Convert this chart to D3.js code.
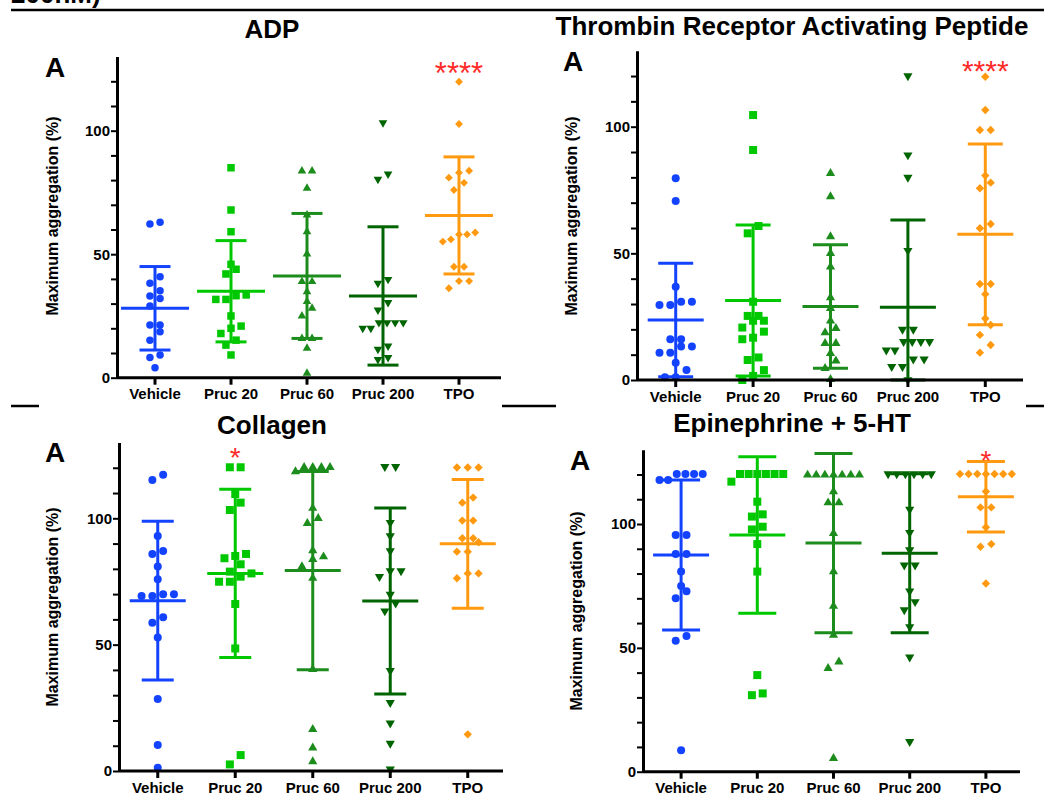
<!DOCTYPE html>
<html>
<head>
<meta charset="utf-8">
<script src="https://cdn.jsdelivr.net/npm/d3@7"></script>
<style>
body { margin: 0; background: #fff; }
svg { display: block; }
text { font-family: "Liberation Sans", Arial, sans-serif; }
</style>
</head>
<body>
<div id="chart"></div>
<script>
// groups and ticks shared by the four panels
var groups = ["Vehicle", "Pruc 20", "Pruc 60", "Pruc 200", "TPO"];
var yTickValues = [0, 10, 20, 30, 40, 50, 60, 70, 80, 90, 100, 110, 120];
var yTickLabels = [0, 50, 100];
var colors = ["#1343ff", "#00c800", "#1c8c1c", "#006400", "#ff9a10"];
var shapes = ["circle", "square", "triangle", "triangleDown", "diamond"];

// ADP
var adpValues = [
	[62.2, 62.9, 40.9, 38.2, 35.2, 33.1, 32.1, 29.0, 21.3, 21.3, 18.6, 15.2, 9.2, 8.2, 4.0],
	[85.0, 67.9, 59.1, 45.9, 43.9, 42.0, 33.5, 33.2, 31.7, 31.7, 25.0, 20.9, 20.0, 17.9, 15.2, 13.2, 9.2],
	[83.7, 83.7, 76.7, 65.9, 59.1, 50.1, 38.9, 38.9, 34.8, 30.8, 28.1, 25.0, 15.9, 15.9, 11.9, 1.8],
	[103.2, 82.5, 80.3, 39.8, 38.2, 30.4, 27.4, 22.3, 22.3, 22.3, 22.3, 20.0, 20.0, 12.8, 11.5, 8.2, 7.4],
	[119.8, 102.7, 83.8, 83.0, 81.0, 78.9, 76.0, 58.8, 58.0, 58.0, 56.0, 55.1, 44.9, 44.9, 39.1, 39.1, 36.2]
];
var adpMean = [28.1, 35.0, 41.2, 33.1, 65.7];
var adpSd = [16.9, 20.5, 25.3, 28.0, 23.7];
var adpSig = ["", "", "", "", "****"];

// Thrombin Receptor Activating Peptide
var trapValues = [
	[79.6, 70.7, 36.8, 30.9, 30.9, 29.6, 29.6, 16.1, 16.1, 13.2, 13.2, 10.8, 10.8, 6.8, 3.9, 1.1, 1.1],
	[104.6, 90.8, 60.8, 57.9, 30.9, 25.3, 25.3, 23.4, 23.4, 20.7, 19.1, 16.7, 16.1, 8.9, 7.9, 3.9, 1.6, 0.0],
	[81.6, 72.4, 56.6, 50.0, 44.7, 32.5, 28.3, 23.4, 20.4, 18.7, 14.5, 14.5, 10.5, 7.6, 4.6, 0.3],
	[120.0, 88.8, 80.0, 51.1, 20.0, 20.0, 15.1, 15.1, 15.1, 15.1, 11.8, 11.8, 8.2, 8.2, 5.3, 5.3, 0.0],
	[119.7, 106.6, 98.7, 98.7, 80.7, 77.9, 75.7, 61.6, 59.9, 37.9, 37.9, 33.9, 24.3, 21.7, 17.8, 13.8, 10.8]
];
var trapMean = [23.7, 31.4, 29.0, 28.7, 57.5];
var trapSd = [22.4, 29.8, 24.4, 34.5, 35.7];
var trapSig = ["", "", "", "", "****"];

// Collagen
var collValues = [
	[117.2, 115.2, 93.0, 87.1, 85.9, 80.9, 75.9, 69.9, 69.9, 69.3, 69.3, 60.8, 58.7, 52.8, 28.5, 10.3, 1.3],
	[120.2, 120.2, 109.6, 106.2, 103.3, 85.9, 85.1, 84.2, 81.8, 78.9, 78.2, 76.9, 74.9, 74.9, 66.1, 48.5, 6.3, 2.6],
	[120.2, 120.2, 120.2, 120.2, 118.5, 104.0, 100.0, 98.0, 87.2, 84.8, 83.8, 80.9, 76.3, 40.2, 16.5, 9.2, 3.7],
	[120.4, 120.4, 98.3, 93.0, 87.1, 79.2, 79.2, 76.9, 69.9, 66.4, 63.3, 39.7, 27.0, 18.9, 10.9, 0.7],
	[120.1, 120.1, 120.1, 108.2, 106.2, 99.1, 99.1, 92.1, 92.1, 90.5, 86.8, 86.8, 78.2, 78.2, 76.3, 14.5]
];
var collMean = [67.4, 78.2, 79.3, 67.3, 89.9];
var collSd = [31.4, 33.3, 39.2, 36.8, 25.5];
var collSig = ["", "*", "", "", ""];

// Epinephrine + 5-HT
var epiValues = [
	[120.2, 120.2, 120.2, 120.2, 117.8, 117.8, 95.6, 95.6, 87.9, 87.9, 80.8, 75.0, 72.9, 70.0, 54.8, 52.9, 8.7],
	[120.2, 120.2, 120.2, 120.2, 120.2, 120.2, 117.1, 109.0, 103.9, 103.0, 98.9, 97.8, 91.9, 80.8, 39.0, 31.6, 30.9],
	[119.8, 119.8, 119.8, 119.8, 119.8, 119.8, 119.8, 113.1, 108.6, 108.6, 96.2, 80.8, 66.9, 55.2, 44.4, 41.7, 5.4],
	[120.2, 120.2, 120.2, 120.2, 120.2, 120.2, 105.9, 96.5, 89.5, 83.4, 83.4, 72.9, 68.6, 65.3, 58.5, 46.2, 12.1],
	[120.2, 120.2, 120.2, 120.2, 120.2, 120.2, 120.2, 113.1, 106.7, 106.7, 98.7, 91.9, 90.8, 76.0]
];
var epiMean = [87.5, 95.6, 92.3, 88.2, 111.0];
var epiSd = [30.3, 31.6, 36.2, 32.1, 14.2];
var epiSig = ["", "", "", "", "*"];

var W = 1044, H = 799;
var svg = d3.select("#chart").append("svg").attr("width", W).attr("height", H);
svg.append("rect").attr("width", W).attr("height", H).attr("fill", "#fff");

// cut heading of the page above and the rules
svg.append("text").attr("x", 11).attr("y", 2.5).attr("font-size", 26).attr("font-weight", "bold").text("200nM)");
svg.append("line").attr("x1", 11).attr("x2", W).attr("y1", 10).attr("y2", 10).attr("stroke", "#000").attr("stroke-width", 2.5);
[[11, 39], [502, 556], [1026, 1044]].forEach(function(s) {
	svg.append("line").attr("x1", s[0]).attr("x2", s[1]).attr("y1", 406).attr("y2", 406).attr("stroke", "#000").attr("stroke-width", 2.5);
});

// layout of each panel
var panels = [
	{title: "ADP", values: adpValues, mean: adpMean, sd: adpSd, sig: adpSig,
	 x0: 117, x1: 497, axisEnd: 501, yBottom: 377.7, yTop: 56.6, titleX: 272, titleY: 38,
	 letterX: 45, letterY: 77, yTitleX: 58, yTitleY: 216, meanHalf: 34, capHalf: 15.5, sigTop: 62, sigSize: 31, mark: 7.5},
	{title: "Thrombin Receptor Activating Peptide", values: trapValues, mean: trapMean, sd: trapSd, sig: trapSig,
	 x0: 637, x1: 1024, axisEnd: 1023, yBottom: 380, yTop: 50.7, titleX: 792, titleY: 35,
	 letterX: 563, letterY: 71, yTitleX: 577, yTitleY: 216, meanHalf: 28, capHalf: 17.5, sigTop: 59, sigSize: 30, mark: 8},
	{title: "Collagen", values: collValues, mean: collMean, sd: collSd, sig: collSig,
	 x0: 119, x1: 506.5, axisEnd: 503, yBottom: 771, yTop: 442.5, titleX: 272, titleY: 434,
	 letterX: 45, letterY: 462, yTitleX: 58, yTitleY: 607, meanHalf: 28, capHalf: 16, sigTop: 447, sigSize: 28, mark: 8},
	{title: "Epinephrine + 5-HT", values: epiValues, mean: epiMean, sd: epiSd, sig: epiSig,
	 x0: 643, x1: 1024, axisEnd: 1020, yBottom: 771.7, yTop: 449.7, titleX: 792, titleY: 432,
	 letterX: 570, letterY: 470, yTitleX: 582, yTitleY: 611, meanHalf: 28, capHalf: 19, sigTop: 450, sigSize: 28, mark: 8}
];

// Prism-like spread: points in the same horizontal row are placed side by side
function swarm(vals, y, rowPx, step) {
	var pts = vals.map(function(v) { return {v: v, py: y(v)}; }).sort(function(a, b) { return b.py - a.py; });
	var rows = [], cur = null;
	pts.forEach(function(p) {
		if (cur && Math.abs(p.py - cur[0].py) < rowPx) cur.push(p);
		else { cur = [p]; rows.push(cur); }
	});
	rows.forEach(function(r) {
		var st = r.length > 4 ? step * 0.8 : step;
		r.forEach(function(p, i) { p.dx = (i - (r.length - 1) / 2) * st; });
	});
	return pts;
}

function symbolPath(shape, s) {
	if (shape == "circle") return d3.symbol(d3.symbolCircle, Math.PI * s * s / 4)();
	if (shape == "square") return d3.symbol(d3.symbolSquare, s * s)();
	if (shape == "diamond") return d3.symbol(d3.symbolSquare, s * s * 0.55)();
	var side = s * 1.15;
	return d3.symbol(d3.symbolTriangle, Math.sqrt(3) / 4 * side * side)();
}

function symbolRotate(shape) {
	if (shape == "triangleDown") return " rotate(180)";
	if (shape == "diamond") return " rotate(45)";
	return "";
}

function drawPanel(p) {
	var g = svg.append("g");
	var x = d3.scaleBand().domain(groups).range([p.x0, p.x1]);
	var y = d3.scaleLinear().domain([0, 130]).range([p.yBottom, p.yTop]);
	var cx = function(i) { return x(groups[i]) + x.bandwidth() / 2; };

	// points
	p.values.forEach(function(vals, i) {
		var pts = swarm(vals, y, p.mark * 1.25, p.mark * 1.35);
		g.selectAll(null).data(pts).enter().append("path")
			.attr("d", symbolPath(shapes[i], p.mark))
			.attr("transform", function(d) { return "translate(" + (cx(i) + d.dx) + "," + d.py + ")" + symbolRotate(shapes[i]); })
			.attr("fill", colors[i]);
	});

	// mean and SD
	p.mean.forEach(function(m, i) {
		var c = cx(i), col = colors[i];
		var hi = y(Math.min(130, m + p.sd[i])), lo = y(Math.max(0, m - p.sd[i]));
		var line = function(x1, x2, y1, y2) {
			g.append("line").attr("x1", x1).attr("x2", x2).attr("y1", y1).attr("y2", y2)
				.attr("stroke", col).attr("stroke-width", 3);
		};
		line(c, c, hi, lo);
		line(c - p.capHalf, c + p.capHalf, hi, hi);
		line(c - p.capHalf, c + p.capHalf, lo, lo);
		line(c - p.meanHalf, c + p.meanHalf, y(m), y(m));
	});

	// axes
	var ya = g.append("g").attr("transform", "translate(" + p.x0 + ",0)")
		.call(d3.axisLeft(y).tickValues(yTickValues).tickSize(6).tickSizeOuter(0)
			.tickFormat(function(d) { return yTickLabels.indexOf(d) >= 0 ? d : ""; }));
	ya.select(".domain").attr("stroke-width", 3);
	ya.selectAll(".tick line").attr("stroke-width", 2);
	ya.selectAll(".tick text").attr("font-size", 15).attr("font-weight", "bold").attr("font-family", "Liberation Sans, Arial, sans-serif").attr("x", -7).attr("fill", "#000");

	var xa = g.append("g").attr("transform", "translate(0," + p.yBottom + ")")
		.call(d3.axisBottom(x).tickSize(7).tickSizeOuter(0));
	xa.select(".domain").attr("d", "M" + p.x0 + ",0H" + p.axisEnd).attr("stroke-width", 3);
	xa.selectAll(".tick line").attr("stroke-width", 3);
	xa.selectAll(".tick text").attr("font-size", 15).attr("font-weight", "bold").attr("font-family", "Liberation Sans, Arial, sans-serif").attr("y", 11).attr("fill", "#000");

	// texts
	g.append("text").attr("x", p.titleX).attr("y", p.titleY).attr("text-anchor", "middle")
		.attr("font-size", 26).attr("font-weight", "bold").text(p.title);
	g.append("text").attr("x", p.letterX).attr("y", p.letterY)
		.attr("font-size", 28).attr("font-weight", "bold").text("A");
	g.append("text").attr("transform", "translate(" + p.yTitleX + "," + p.yTitleY + ") rotate(-90)")
		.attr("text-anchor", "middle").attr("font-size", 16).attr("font-weight", "bold").text("Maximum aggregation (%)");
	p.sig.forEach(function(s, i) {
		if (!s) return;
		g.append("text").attr("x", cx(i)).attr("y", p.sigTop + p.sigSize * 0.72).attr("text-anchor", "middle")
			.attr("font-size", p.sigSize).attr("fill", "#ff2a2a").text(s);
	});
}

panels.forEach(drawPanel);
</script>
</body>
</html>
